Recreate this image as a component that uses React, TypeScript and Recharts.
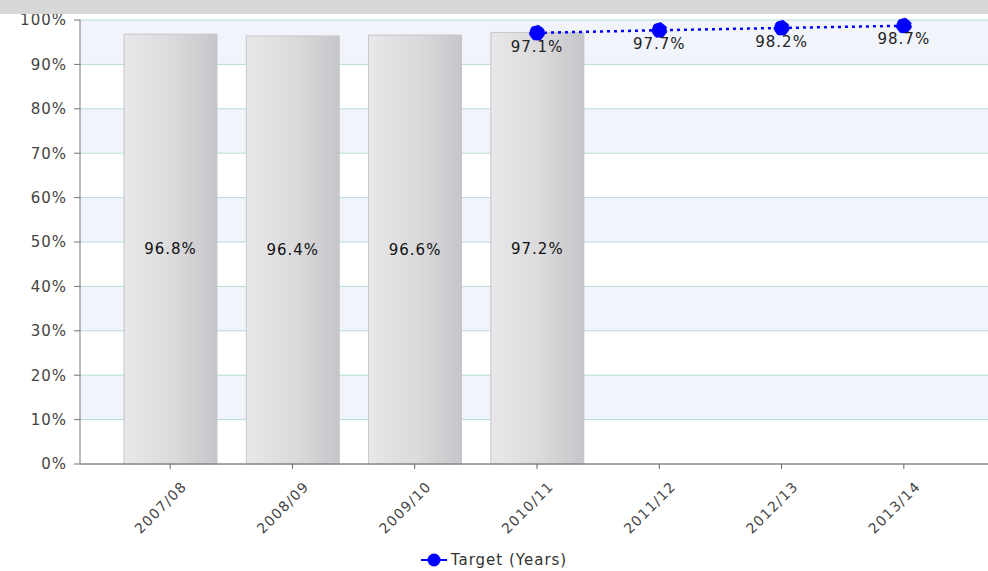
import React from "react";
import {
  ComposedChart,
  Bar,
  Line,
  XAxis,
  YAxis,
  CartesianGrid,
  Legend,
  LabelList,
} from "recharts";

const years = ["2007/08", "2008/09", "2009/10", "2010/11", "2011/12", "2012/13", "2013/14"];
const actual = [96.8, 96.4, 96.6, 97.2, null, null, null];
const target = [null, null, null, 97.1, 97.7, 98.2, 98.7];
const yTicks = [0, 10, 20, 30, 40, 50, 60, 70, 80, 90, 100];

const data = years.map((year, i) => ({ year, actual: actual[i], target: target[i] }));

const FONT = '"DejaVu Sans", Verdana, sans-serif';

function XTick(props: any) {
  const { x, y, payload } = props;
  return (
    <g transform={`translate(${x + 14},${y + 13})`}>
      <text
        textAnchor="end"
        transform="rotate(-45)"
        fill="#444"
        fontSize={14}
        letterSpacing={1.2}
        fontFamily={FONT}
        dy="0.35em"
      >
        {payload.value}
      </text>
    </g>
  );
}

function LegendContent() {
  return (
    <div
      style={{
        display: "flex",
        justifyContent: "center",
        alignItems: "center",
        height: 21,
        paddingTop: 5,
        fontFamily: FONT,
        fontSize: 15,
        letterSpacing: 1,
        color: "#333",
      }}
    >
      <svg width={26} height={16} style={{ marginRight: 4 }}>
        <line x1={0} y1={8} x2={26} y2={8} stroke="#0000ff" strokeWidth={2} />
        <circle cx={13} cy={8} r={6.5} fill="#0000ff" />
      </svg>
      Target (Years)
    </div>
  );
}

export default function App() {
  return (
    <div style={{ position: "absolute", left: 0, top: 0, width: 988, height: 571, background: "#fff" }}>
      <ComposedChart
        width={988}
        height={571}
        data={data}
        margin={{ top: 20, right: 0, bottom: 0, left: 0 }}
        barCategoryGap={0}
      >
        <defs>
          <linearGradient id="barFill" x1="0" y1="0" x2="1" y2="0">
            <stop offset="0%" stopColor="#e8e8ea" />
            <stop offset="55%" stopColor="#dadadc" />
            <stop offset="100%" stopColor="#c6c6ca" />
          </linearGradient>
        </defs>
        <CartesianGrid
          vertical={false}
          stroke="#b2ddd6"
          horizontalFill={["#f2f4fb", "#ffffff"]}
          fillOpacity={1}
        />
        <XAxis
          dataKey="year"
          height={80}
          padding={{ left: 29, right: 23 }}
          stroke="#666"
          tickSize={5}
          tick={<XTick />}
          interval={0}
        />
        <YAxis
          width={80}
          domain={[0, 100]}
          ticks={yTicks}
          tickFormatter={(v) => `${v}%`}
          stroke="#777"
          tickSize={6}
          tickMargin={7}
          tick={{ fill: "#444", fontSize: 15, fontFamily: FONT, letterSpacing: 1 }}
          interval={0}
        />
        <Legend verticalAlign="bottom" height={27} content={<LegendContent />} />
        <Bar
          dataKey="actual"
          barSize={93}
          fill="url(#barFill)"
          stroke="#c6c6c8"
          legendType="none"
          isAnimationActive={false}
        >
          <LabelList
            dataKey="actual"
            position="center"
            formatter={(v: any) => (v == null ? "" : `${v}%`)}
            fill="#111"
            fontSize={15}
            fontFamily={FONT}
            letterSpacing={1}
          />
        </Bar>
        <Line
          dataKey="target"
          name="Target (Years)"
          stroke="#0000ff"
          strokeWidth={2.5}
          strokeDasharray="3 4"
          dot={{ r: 7.5, fill: "#0000ff", stroke: "#0000ff", strokeWidth: 1 }}
          isAnimationActive={false}
        >
          <LabelList
            dataKey="target"
            position="bottom"
            offset={8}
            formatter={(v: any) => (v == null ? "" : `${v}%`)}
            fill="#222"
            fontSize={15}
            fontFamily={FONT}
            letterSpacing={1}
          />
        </Line>
      </ComposedChart>
      <div style={{ position: "absolute", left: 0, top: 0, width: 988, height: 14, background: "#d8d8d8" }} />
    </div>
  );
}
